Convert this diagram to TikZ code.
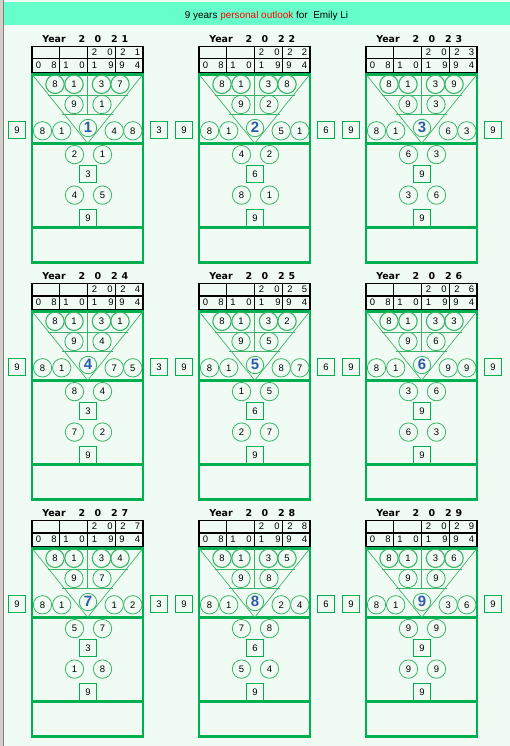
\documentclass[tikz,border=0pt]{standalone}
\usepackage{fontspec}
\setmainfont{Liberation Sans}
\newfontfamily\dejab{DejaVu Sans}[BoldFont={DejaVu Sans Bold}]
\definecolor{bg}{HTML}{F0FBF3}
\definecolor{bar}{HTML}{66FFCC}
\definecolor{gbox}{HTML}{00B050}
\definecolor{gcir}{HTML}{3CB36A}
\definecolor{cblue}{HTML}{2E5AAC}
\definecolor{strip}{HTML}{D4D0C8}
\begin{document}
\begin{tikzpicture}[x=1bp,y=-1bp,
  dig/.style={inner sep=0pt,font=\fontsize{9.5}{10}\selectfont},
  cir/.style={circle,draw=gcir,line width=0.8bp,minimum size=18.4bp,inner sep=0pt,font=\fontsize{9.5}{10}\selectfont},
  cirt/.style={cir,line width=1.1bp},
  sq/.style={rectangle,draw=gbox,line width=1.1bp,minimum size=17bp,inner sep=0pt,fill=bg,font=\fontsize{9.5}{10}\selectfont},
  yr/.style={inner sep=0pt,font=\dejab\bfseries\fontsize{9.5}{10}\selectfont},
  cen/.style={inner sep=0pt,text=cblue,font=\bfseries\fontsize{15}{16}\selectfont},
  bigbox/.style={draw=gbox,line width=2.6bp},
  tri/.style={draw=gcir,line width=0.7bp},
  tab/.style={draw=black,line width=1.2bp}]
\useasboundingbox (0,0) rectangle (510,746);
\fill[bg] (0,0) rectangle (510,746);
\fill[strip] (0,0) rectangle (3.2,746);
\draw[gray,line width=0.6bp] (3.5,0) -- (3.5,746);
\fill[bar] (4,2) rectangle (510,25);
\node[inner sep=0pt,anchor=base,font=\fontsize{10}{12}\selectfont] (title) at (266.5,18.3)
  {9 years \textcolor{red}{personal outlook} for\ \ Emily Li};
\foreach \cx/\ry/\yd/\ta/\tb/\ce/\rd/\re/\rbx/\la/\lb/\bx/\lc/\ld in {
  0/0/1/7/1/1/4/8/3/2/1/3/4/5,
  1/0/2/8/2/2/5/1/6/4/2/6/8/1,
  2/0/3/9/3/3/6/3/9/6/3/9/3/6,
  0/1/4/1/4/4/7/5/3/8/4/3/7/2,
  1/1/5/2/5/5/8/7/6/1/5/6/2/7,
  2/1/6/3/6/6/9/9/9/3/6/9/6/3,
  0/2/7/4/7/7/1/2/3/5/7/3/1/8,
  1/2/8/5/8/8/2/4/6/7/8/6/5/4,
  2/2/9/6/9/9/3/6/9/9/9/9/9/9}{
  \pgfmathsetmacro\xo{32+167*\cx}
  \pgfmathsetmacro\yo{74.3+237*\ry}
  \begin{scope}[shift={(\xo,\yo)}]
    % year label
    \node[yr] (y\yd-year) at (22,-35) {Year};
    \node[yr] (y\yd-d1) at (50,-35) {2};
    \node[yr] (y\yd-d2) at (66,-35) {0};
    \node[yr] (y\yd-d3) at (82.5,-35) {2};
    \node[yr] (y\yd-d4) at (93,-35) {\yd};
    % table
    \draw[tab] (0,-28) rectangle (111,-2.2);
    \draw[tab] (0,-15.4) -- (111,-15.4);
    \foreach \vx in {27.5,55.5,83.3} \draw[tab] (\vx,-28) -- (\vx,-2.2);
    \node[dig] (y\yd-a1) at (62.5,-21.7) {2};
    \node[dig] (y\yd-a2) at (78,-21.7) {0};
    \node[dig] (y\yd-a3) at (91,-21.7) {2};
    \node[dig] (y\yd-a4) at (105.5,-21.7) {\yd};
    \node[dig] (y\yd-b1) at (6.5,-8.8) {0};
    \node[dig] (y\yd-b2) at (22,-8.8) {8};
    \node[dig] (y\yd-b3) at (34,-8.8) {1};
    \node[dig] (y\yd-b4) at (50,-8.8) {0};
    \node[dig] (y\yd-b5) at (62.5,-8.8) {1};
    \node[dig] (y\yd-b6) at (79,-8.8) {9};
    \node[dig] (y\yd-b7) at (90,-8.8) {9};
    \node[dig] (y\yd-b8) at (105.5,-8.8) {4};
    % main box
    \draw[bigbox] (0,0) rectangle (111,188);
    \draw[bigbox] (0,69) -- (111,69);
    \draw[bigbox] (0,153) -- (111,153);
    % triangle
    \draw[tri] (0,0) -- (55.7,69) -- (111,0);
    \draw[tri] (16,21.5) -- (96,21.5);
    \draw[tri] (30,40) -- (81,40);
    \draw[tri] (55.7,0) -- (55.7,40);
    % circles
    \node[cirt] (y\yd-t1) at (23,10) {8};
    \node[cirt] (y\yd-t2) at (42,10) {1};
    \node[cirt] (y\yd-t3) at (69.5,10) {3};
    \node[cirt] (y\yd-t4) at (88,10) {\ta};
    \node[cir] (y\yd-m1) at (42,30.2) {9};
    \node[cir] (y\yd-m2) at (70,30.2) {\tb};
    \node[cir] (y\yd-r1) at (10.5,56.5) {8};
    \node[cir] (y\yd-r2) at (29.7,56.5) {1};
    \node[cir,minimum size=17.4bp] (y\yd-c) at (56,53.7) {};
    \node[cen] (y\yd-cn) at (56,53.3) {\ce};
    \node[cir] (y\yd-r3) at (82.2,56.5) {\rd};
    \node[cir] (y\yd-r4) at (100.8,56.5) {\re};
    \node[sq] (y\yd-lb) at (-15,56) {9};
    \node[sq] (y\yd-rb) at (127,56) {\rbx};
    \node[cir] (y\yd-l1) at (42.5,80.3) {\la};
    \node[cir] (y\yd-l2) at (70.5,80.3) {\lb};
    \node[sq] (y\yd-s1) at (56,99.8) {\bx};
    \node[cir] (y\yd-l3) at (42.5,120.8) {\lc};
    \node[cir] (y\yd-l4) at (70.5,120.8) {\ld};
    \node[sq] (y\yd-s2) at (56,143.5) {9};
  \end{scope}
}
\end{tikzpicture}
\end{document}
